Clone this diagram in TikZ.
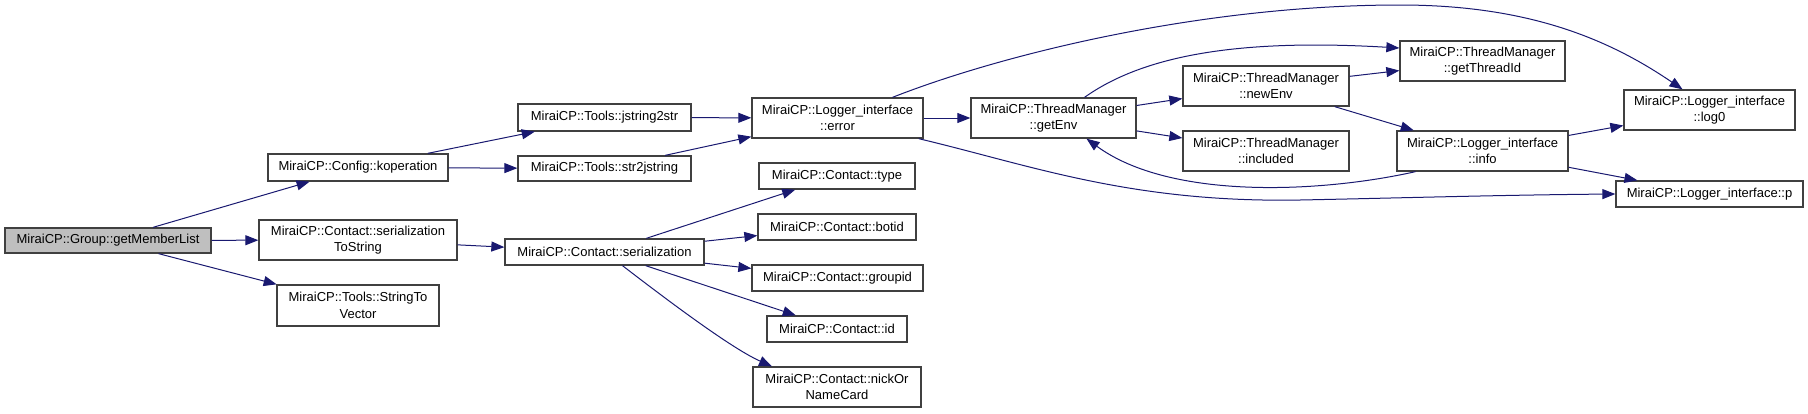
\documentclass[tikz,border=0pt]{standalone}
\usepackage{fontspec}
\setmainfont{Liberation Sans}
\usetikzlibrary{arrows.meta}
\definecolor{edgeblue}{HTML}{191970}
\definecolor{boxborder}{HTML}{404040}
\definecolor{boxfill}{HTML}{BFBFBF}
\tikzset{
  box/.style={draw=boxborder, line width=1.3pt, fill=white, inner sep=0pt, align=center,
    font=\fontsize{13}{16.5}\selectfont},
  rootbox/.style={box, fill=boxfill},
  edge/.style={draw=edgeblue, line width=1pt, -{Triangle[length=13pt,width=10pt]}}
}
\begin{document}
\begin{tikzpicture}[x=1pt,y=-1pt]
\useasboundingbox (0,0) rectangle (1808,413);
% nodes
\node[rootbox, minimum width=206pt, minimum height=25pt] (gml) at (108,240.5) {MiraiCP::Group::getMemberList};
\node[box, minimum width=180pt, minimum height=27pt] (kop) at (358,167.5) {MiraiCP::Config::koperation};
\node[box, minimum width=198pt, minimum height=40pt] (sts) at (358,240) {MiraiCP::Contact::serialization\\ToString};
\node[box, minimum width=162pt, minimum height=41pt] (stv) at (358,305.5) {MiraiCP::Tools::StringTo\\Vector};
\node[box, minimum width=173pt, minimum height=27pt] (j2s) at (604.5,117.5) {MiraiCP::Tools::jstring2str};
\node[box, minimum width=173pt, minimum height=25pt] (s2j) at (604.5,168.5) {MiraiCP::Tools::str2jstring};
\node[box, minimum width=199pt, minimum height=26pt] (ser) at (604.5,252) {MiraiCP::Contact::serialization};
\node[box, minimum width=171pt, minimum height=40pt] (err) at (837.5,118) {MiraiCP::Logger\_interface\\::error};
\node[box, minimum width=156pt, minimum height=26pt] (typ) at (837,176) {MiraiCP::Contact::type};
\node[box, minimum width=158pt, minimum height=26pt] (bot) at (837,227) {MiraiCP::Contact::botid};
\node[box, minimum width=171pt, minimum height=26pt] (grp) at (837.5,278) {MiraiCP::Contact::groupid};
\node[box, minimum width=140pt, minimum height=26pt] (cid) at (837,329) {MiraiCP::Contact::id};
\node[box, minimum width=168pt, minimum height=40pt] (nick) at (837,387) {MiraiCP::Contact::nickOr\\NameCard};
\node[box, minimum width=165pt, minimum height=40pt] (env) at (1053.5,118) {MiraiCP::ThreadManager\\::getEnv};
\node[box, minimum width=166pt, minimum height=40pt] (new) at (1266,86) {MiraiCP::ThreadManager\\::newEnv};
\node[box, minimum width=166pt, minimum height=40pt] (inc) at (1266,151) {MiraiCP::ThreadManager\\::included};
\node[box, minimum width=165pt, minimum height=40pt] (gti) at (1482.5,61) {MiraiCP::ThreadManager\\::getThreadId};
\node[box, minimum width=171pt, minimum height=40pt] (inf) at (1482.5,151) {MiraiCP::Logger\_interface\\::info};
\node[box, minimum width=171pt, minimum height=40pt] (log) at (1709.5,110) {MiraiCP::Logger\_interface\\::log0};
\node[box, minimum width=187pt, minimum height=26pt] (p) at (1709.5,194) {MiraiCP::Logger\_interface::p};
% straight edges
\draw[edge] (gml) -- (kop);
\draw[edge] (gml) -- (sts);
\draw[edge] (gml) -- (stv);
\draw[edge] (kop) -- (j2s);
\draw[edge] (kop) -- (s2j);
\draw[edge] (j2s) -- (err);
\draw[edge] (s2j) -- (err);
\draw[edge] (sts) -- (ser);
\draw[edge] (ser) -- (typ);
\draw[edge] (ser) -- (bot);
\draw[edge] (ser) -- (grp);
\draw[edge] (ser) -- (cid);
\draw[edge] (err) -- (env);
\draw[edge] (env) -- (new);
\draw[edge] (env) -- (inc);
\draw[edge] (new) -- (gti);
\draw[edge] (new) -- (inf);
\draw[edge] (inf) -- (log);
\draw[edge] (inf) -- (p);
% curved edges
\draw[edge] ([xshift=18pt]ser.south) .. controls (680,310) and (735,350) .. ([xshift=-65pt]nick.north);
\draw[edge] ([xshift=55pt]err.north) .. controls (1000,55) and (1200,5) .. (1400,5) .. controls (1530,5) and (1610,40) .. ([xshift=-27pt]log.north);
\draw[edge] ([xshift=31pt]env.north) .. controls (1140,58) and (1230,38) .. ([yshift=13pt]gti.west);
\draw[edge] ([xshift=-5pt]err.south east) .. controls (1030,165) and (1130,203) .. (1300,200) .. controls (1400,198) and (1500,195) .. (p.west);
\draw[edge] ([xshift=-67pt]inf.south) .. controls (1320,193) and (1170,200) .. ([xshift=33pt]env.south);
\end{tikzpicture}
\end{document}
